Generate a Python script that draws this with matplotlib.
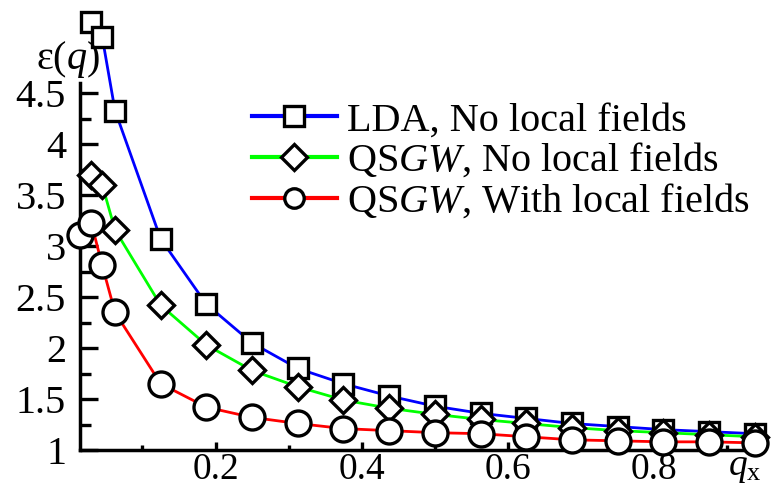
import matplotlib
matplotlib.use('Agg')
import matplotlib.pyplot as plt
from matplotlib.lines import Line2D

plt.rcParams['font.family'] = ['Liberation Serif', 'DejaVu Serif']
plt.rcParams['mathtext.fontset'] = 'custom'
plt.rcParams['mathtext.rm'] = 'Liberation Serif'
plt.rcParams['mathtext.it'] = 'Liberation Serif:italic'

# q points (units of the zone boundary)
q = [0.03, 0.045, 0.0625, 0.125, 0.1875, 0.25, 0.3125, 0.375, 0.4375,
     0.5, 0.5625, 0.625, 0.6875, 0.75, 0.8125, 0.875, 0.9375]
q_lf = [0.015] + q

eps_lda = [5.20, 5.05, 4.33, 3.07, 2.43, 2.05, 1.80, 1.65, 1.53,
           1.43, 1.36, 1.31, 1.26, 1.23, 1.20, 1.18, 1.16]
eps_qsgw = [3.70, 3.60, 3.16, 2.42, 2.03, 1.78, 1.62, 1.49, 1.41,
            1.35, 1.30, 1.26, 1.22, 1.19, 1.17, 1.15, 1.13]
eps_qsgw_lf = [3.11, 3.23, 2.81, 2.35, 1.65, 1.42, 1.32, 1.26, 1.21,
               1.19, 1.17, 1.16, 1.13, 1.10, 1.09, 1.08, 1.08, 1.07]

labels = ['LDA, No local fields',
          r'QS$\mathit{GW}$, No local fields',
          r'QS$\mathit{GW}$, With local fields']

FS = 29
LW = 2.0
MEW = 2.4

fig = plt.figure(figsize=(7.78, 4.9), dpi=100)
ax = fig.add_axes([80/778, 40/490, 667/778, 367/490])

# lines under all markers
ax.plot(q, eps_lda, color='#0000ff', lw=LW, clip_on=False, zorder=2)
ax.plot(q, eps_qsgw, color='#00ff00', lw=LW, clip_on=False, zorder=2)
ax.plot(q_lf, eps_qsgw_lf, color='#ff0000', lw=LW, clip_on=False, zorder=2)

mk = dict(ls='none', mfc='white', mec='black', mew=MEW, clip_on=False)
ax.plot(q, eps_lda, marker='s', ms=14, zorder=3, **mk)
ax.plot(q, eps_qsgw, marker='D', ms=13, zorder=4, **mk)
ax.plot(q_lf, eps_qsgw_lf, marker='o', ms=18, zorder=5, **mk)

ax.set_xlim(0.0146, 0.927)
ax.set_ylim(1, 4.6)

for s in ['top', 'right']:
    ax.spines[s].set_visible(False)
for s in ['left', 'bottom']:
    ax.spines[s].set_linewidth(2.5)

ax.set_xticks([0.2, 0.4, 0.6, 0.8])
ax.set_xticklabels(['0.2', '0.4', '0.6', '0.8'])
ax.set_xticks([0.1, 0.3, 0.5, 0.7, 0.9], minor=True)
ax.set_yticks([1, 1.5, 2, 2.5, 3, 3.5, 4, 4.5])
ax.set_yticklabels(['1', '1.5', '2', '2.5', '3', '3.5', '4', '4.5'])
ax.set_yticks([1.25, 1.75, 2.25, 2.75, 3.25, 3.75, 4.25], minor=True)

ax.tick_params(axis='both', which='both', direction='in', width=2.4)
ax.tick_params(axis='x', which='major', length=6, pad=2, labelsize=27)
ax.tick_params(axis='x', which='minor', length=3.5)
ax.tick_params(axis='y', which='major', length=13, pad=10, labelsize=FS)
ax.tick_params(axis='y', which='minor', length=8)

fig.text(68/778, 1 - 60/490, r'$\mathrm{ε}(q)$', fontsize=FS, ha='center', va='center')
fig.text(745/778, 1 - 468/490, r'$q_\mathrm{x}$', fontsize=27, ha='center', va='center')

handles = [
    Line2D([], [], color='#0000ff', lw=LW + 1, marker='s', ms=14, mfc='white', mec='black', mew=MEW),
    Line2D([], [], color='#00ff00', lw=LW + 1, marker='D', ms=13, mfc='white', mec='black', mew=MEW),
    Line2D([], [], color='#ff0000', lw=LW + 1, marker='o', ms=14, mfc='white', mec='black', mew=MEW),
]
fig.legend(handles, labels, loc='upper left', bbox_to_anchor=(252/778, 1 - 102/490),
           frameon=False, fontsize=FS, handlelength=2.1, handletextpad=0.25,
           labelspacing=0.05, borderpad=0, borderaxespad=0)

fig.savefig('out.png', dpi=100)
